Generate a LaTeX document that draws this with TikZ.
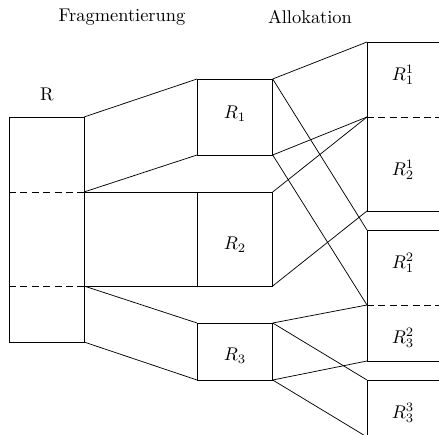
\documentclass[tikz,border=0pt]{standalone}
\begin{document}
\begin{tikzpicture}[x=0.5435pt,y=-0.5435pt,
  dsh/.style={dash pattern=on 3.8pt off 2.4pt},
  lbl/.style={inner sep=0pt}]
\useasboundingbox (0,0) rectangle (439,435);
\clip (0,0) rectangle (439,435);
% titles
\node[lbl] (tf) at (122,17) {Fragmentierung};
\node[lbl] (ta) at (310,17) {Allokation};
\node[lbl] (tR) at (47,94) {R};
% relation R
\coordinate (Rtl) at (9,117);   \coordinate (Rtr) at (84,117);
\coordinate (Ral) at (9,192);   \coordinate (Rar) at (84,192);
\coordinate (Rbl) at (9,286);   \coordinate (Rbr) at (84,286);
\coordinate (Rdl) at (9,342);   \coordinate (Rdr) at (84,342);
\draw (Rtl) rectangle (Rdr);
\draw[dsh] (Ral) -- (Rar);
\draw[dsh] (Rbl) -- (Rbr);
% fragments
\coordinate (A1) at (197,79);  \coordinate (B1) at (272.7,79);
\coordinate (C1) at (197,155); \coordinate (D1) at (272.7,155);
\coordinate (A2) at (197,192); \coordinate (B2) at (272.7,192);
\coordinate (C2) at (197,286); \coordinate (D2) at (272.7,286);
\coordinate (A3) at (197,323); \coordinate (B3) at (272.7,323);
\coordinate (C3) at (197,380); \coordinate (D3) at (272.7,380);
\draw (A1) rectangle (D1);
\draw (A2) rectangle (D2);
\draw (A3) rectangle (D3);
\node[lbl] (l1) at (235,114) {$R_1$};
\node[lbl] (l2) at (235,245) {$R_2$};
\node[lbl] (l3) at (235,356) {$R_3$};
% fragmentation connectors
\draw (Rtr) -- (A1);
\draw (Rar) -- (C1);
\draw (Rar) -- (A2);
\draw (Rbr) -- (C2);
\draw (Rbr) -- (A3);
\draw (Rdr) -- (C3);
% sites
\coordinate (S1t) at (367,42);  \coordinate (S1m) at (367,117); \coordinate (S1b) at (367,211);
\coordinate (S2t) at (367,230); \coordinate (S2m) at (367,305); \coordinate (S2b) at (367,361);
\coordinate (S3t) at (367,380); \coordinate (S3b) at (367,437);
\coordinate (S1tE) at (445,42);  \coordinate (S1mE) at (445,117); \coordinate (S1bE) at (445,211);
\coordinate (S2tE) at (445,230); \coordinate (S2mE) at (445,305); \coordinate (S2bE) at (445,361);
\coordinate (S3tE) at (445,380); \coordinate (S3bE) at (445,437);
\draw (S1t) rectangle (S1bE);
\draw[dsh] (S1m) -- (S1mE);
\draw (S2t) rectangle (S2bE);
\draw[dsh] (S2m) -- (S2mE);
\draw (S3t) rectangle (S3bE);
\node[lbl] (s11) at (403,75) {$R_1^1$};
\node[lbl] (s21) at (403,170) {$R_2^1$};
\node[lbl] (s12) at (403,263) {$R_1^2$};
\node[lbl] (s32) at (403,338) {$R_3^2$};
\node[lbl] (s33) at (403,413) {$R_3^3$};
% allocation connectors
\draw (B1) -- (S1t);
\draw (D1) -- (S1m);
\draw (B1) -- (S2t);
\draw (D1) -- (S2m);
\draw (B2) -- (S1m);
\draw (D2) -- (S1b);
\draw (B3) -- (S2m);
\draw (D3) -- (S2b);
\draw (B3) -- (S3t);
\draw (D3) -- (S3b);
\end{tikzpicture}
\end{document}
